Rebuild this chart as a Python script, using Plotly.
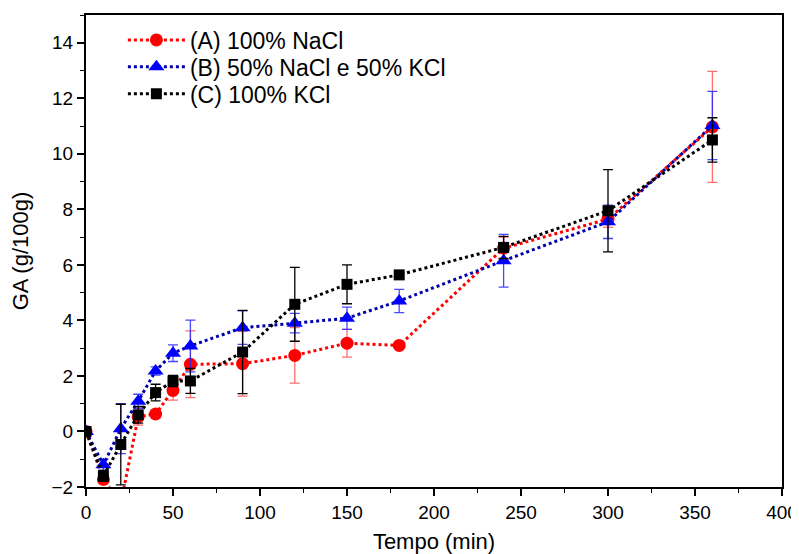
import plotly.graph_objects as go

tempo = [0, 10, 20, 30, 40, 50, 60, 90, 120, 150, 180, 240, 300, 360]

ga_a = [0, -1.73, -2.6, 0.53, 0.63, 1.48, 2.42, 2.44, 2.74, 3.18, 3.10, 6.60, 7.65, 10.97]
err_a = [0, 0.15, 0.5, 0.3, 0.15, 0.35, 1.2, 1.17, 1.0, 0.5, 0.05, 0.4, 0.3, 2.0]

ga_b = [0, -1.2, 0.1, 1.09, 2.18, 2.82, 3.08, 3.74, 3.90, 4.08, 4.70, 6.15, 7.55, 11.02]
err_b = [0, 0.2, 0.9, 0.25, 0.15, 0.3, 0.93, 0.6, 0.35, 0.4, 0.42, 0.95, 0.6, 1.23]

ga_c = [0, -1.6, -0.47, 0.6, 1.40, 1.82, 1.82, 2.86, 4.58, 5.30, 5.64, 6.63, 7.95, 10.50]
err_c = [0, 0.2, 1.45, 0.3, 0.3, 0.2, 0.45, 1.5, 1.33, 0.7, 0.1, 0.4, 1.48, 0.8]

names = ["(A) 100% NaCl", "(B) 50% NaCl e 50% KCl", "(C) 100% KCl"]
line_colors = ["#ff0000", "#0000aa", "#000000"]
marker_colors = ["#ff0000", "#0000ff", "#000000"]
err_colors = ["rgba(255,60,60,0.75)", "rgba(40,40,255,0.85)", "#000000"]
symbols = ["circle", "triangle-up", "square"]
sizes = [13, 14, 11]
legend_ids = ["legend", "legend2", "legend3"]

FONT = "Liberation Sans, Arial"

fig = go.Figure()
for ys, es, nm, lc, mc, ec, sy, sz, lg in zip(
    [ga_a, ga_b, ga_c], [err_a, err_b, err_c], names, line_colors,
    marker_colors, err_colors, symbols, sizes, legend_ids):
    fig.add_trace(go.Scatter(
        x=tempo, y=ys, name=nm, mode="lines+markers", legend=lg,
        line=dict(color=lc, width=3, dash="dot"),
        marker=dict(symbol=sy, size=sz, color=mc),
        error_y=dict(type="data", array=es, visible=True, color=ec,
                     thickness=1.3, width=5),
    ))

axis_common = dict(
    showline=True, linecolor="black", linewidth=2, mirror=True,
    ticks="outside", ticklen=7, tickwidth=1.5, tickcolor="black",
    showgrid=False, zeroline=False, automargin=False,
    tickfont=dict(family=FONT, size=19, color="black"),
)

fig.update_xaxes(
    range=[0, 400], tick0=0, dtick=50,
    minor=dict(ticks="outside", ticklen=4, dtick=25, tickcolor="black", tickwidth=1),
    title=dict(text="Tempo (min)", font=dict(family=FONT, size=22, color="black"), standoff=12),
    **axis_common,
)
fig.update_yaxes(
    range=[-2, 15], tick0=0, dtick=2,
    minor=dict(ticks="outside", ticklen=4, dtick=1, tickcolor="black", tickwidth=1),
    title=dict(text="GA (g/100g)", font=dict(family=FONT, size=22, color="black"), standoff=17),
    **axis_common,
)

leg_common = dict(x=0.053, xanchor="left", yanchor="middle",
                  bgcolor="rgba(0,0,0,0)", font=dict(size=23, color="black", family=FONT),
                  itemwidth=57)

fig.update_layout(
    width=791, height=546,
    margin=dict(l=78, r=17, t=7, b=67),
    paper_bgcolor="white", plot_bgcolor="white",
    font=dict(family=FONT, color="black"),
    legend=dict(y=0.947, **leg_common),
    legend2=dict(y=0.890, **leg_common),
    legend3=dict(y=0.833, **leg_common),
    showlegend=True,
)

fig.write_html("out.html")
